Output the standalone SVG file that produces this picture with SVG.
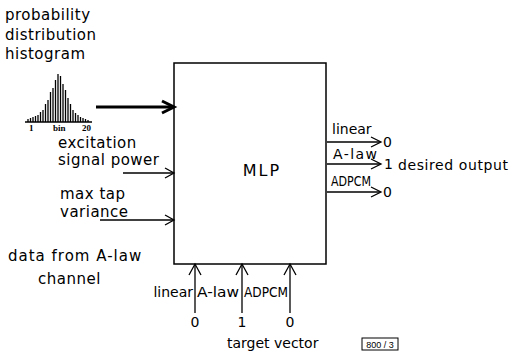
<svg xmlns="http://www.w3.org/2000/svg" width="513" height="354" viewBox="0 0 513 354">
<style>
.t{font-family:"DejaVu Sans","Liberation Sans",sans-serif;font-size:14px;fill:#000}
.L{font-family:"DejaVu Sans","Liberation Sans",sans-serif;font-size:15px;fill:#000;letter-spacing:0.5px}
.ln{stroke:#000;stroke-width:1.3;fill:none}
.hd{stroke:#000;stroke-width:1.3;fill:none;stroke-linejoin:miter}
.bar{stroke:#000;stroke-width:1.3}
.sm{font-family:"Liberation Serif",serif;font-size:9px;font-weight:bold;fill:#000}
</style>
<rect width="513" height="354" fill="#fff"/>
<g id="mlp">
<rect x="174" y="63" width="152" height="201" fill="none" stroke="#000" stroke-width="1.5"/>
<text x="262" y="176" text-anchor="middle" style="font-family:'DejaVu Sans',sans-serif;font-size:16px;letter-spacing:2px">MLP</text>
</g>
<g id="histogram">
<text class="L" x="5" y="20">probability</text>
<text class="L" x="5" y="40">distribution</text>
<text class="L" x="5" y="59">histogram</text>
<line x1="25" y1="122" x2="92" y2="122" class="bar"/>
<g class="bar">
<line x1="28" y1="122" x2="28" y2="119"/>
<line x1="30.5" y1="122" x2="30.5" y2="118"/>
<line x1="33" y1="122" x2="33" y2="117"/>
<line x1="35.5" y1="122" x2="35.5" y2="116"/>
<line x1="38" y1="122" x2="38" y2="115"/>
<line x1="40.5" y1="122" x2="40.5" y2="112"/>
<line x1="43" y1="122" x2="43" y2="110"/>
<line x1="45.5" y1="122" x2="45.5" y2="104"/>
<line x1="48" y1="122" x2="48" y2="100"/>
<line x1="50.5" y1="122" x2="50.5" y2="92"/>
<line x1="53" y1="122" x2="53" y2="88"/>
<line x1="55.5" y1="122" x2="55.5" y2="80"/>
<line x1="58" y1="122" x2="58" y2="74"/>
<line x1="60.5" y1="122" x2="60.5" y2="76"/>
<line x1="63" y1="122" x2="63" y2="84"/>
<line x1="65.5" y1="122" x2="65.5" y2="90"/>
<line x1="68" y1="122" x2="68" y2="98"/>
<line x1="70.5" y1="122" x2="70.5" y2="104"/>
<line x1="73" y1="122" x2="73" y2="110"/>
<line x1="75.5" y1="122" x2="75.5" y2="113"/>
<line x1="78" y1="122" x2="78" y2="115"/>
<line x1="80.5" y1="122" x2="80.5" y2="117"/>
<line x1="83" y1="122" x2="83" y2="118"/>
<line x1="85.5" y1="122" x2="85.5" y2="119"/>
<line x1="88" y1="122" x2="88" y2="120"/>
</g>
<text class="sm" x="29" y="131">1</text>
<text class="sm" x="53" y="131">bin</text>
<text class="sm" x="82" y="131">20</text>
</g>
<g id="excitation">
<text class="L" x="58" y="148">excitation</text>
<text class="L" x="58" y="165">signal power</text>
</g>
<g id="maxtap">
<text class="L" x="60" y="199">max tap</text>
<text class="L" x="60" y="217">variance</text>
</g>
<g id="channel">
<text class="L" x="8" y="261" style="letter-spacing:1px">data from A-law</text>
<text class="L" x="38" y="284">channel</text>
</g>
<g id="outputs">
<text class="t" x="332" y="134">linear</text>
<text class="t" x="383" y="147">0</text>
<text class="t" x="333" y="159" textLength="44" lengthAdjust="spacing">A-law</text>
<text class="t" x="384" y="169">1</text>
<text class="t" x="398" y="170" textLength="110" lengthAdjust="spacing">desired output</text>
<text class="t" x="331" y="186" textLength="40" lengthAdjust="spacingAndGlyphs">ADPCM</text>
<text class="t" x="383" y="197">0</text>
</g>
<g id="targets">
<text class="t" x="193" y="297" text-anchor="end">linear</text>
<text class="t" x="197" y="297" textLength="42" lengthAdjust="spacingAndGlyphs">A-law</text>
<text class="t" x="244" y="297" textLength="44" lengthAdjust="spacingAndGlyphs">ADPCM</text>
<text class="t" x="195" y="327" text-anchor="middle">0</text>
<text class="t" x="242" y="327" text-anchor="middle">1</text>
<text class="t" x="290" y="327" text-anchor="middle">0</text>
<text class="t" x="227" y="348">target vector</text>
</g>
<g id="label">
<rect x="362" y="338" width="36" height="12" fill="none" stroke="#000" stroke-width="1"/>
<text x="380" y="347.5" text-anchor="middle" style="font-family:'Liberation Sans',sans-serif;font-size:9px">800 / 3</text>
</g>
<g id="connectors">
<line x1="96" y1="107" x2="172" y2="107" stroke="#000" stroke-width="3"/>
<polyline points="162,101 174,107 162,113" fill="none" stroke="#000" stroke-width="3"/>
<line class="ln" x1="123" y1="173" x2="173" y2="173"/>
<polyline class="hd" points="165,168 174,173 165,178"/>
<line class="ln" x1="100" y1="220" x2="173" y2="220"/>
<polyline class="hd" points="165,215 174,220 165,225"/>
<line class="ln" x1="327" y1="142" x2="380" y2="142"/>
<polyline class="hd" points="371,137 381,142 371,147"/>
<line class="ln" x1="327" y1="164" x2="380" y2="164"/>
<polyline class="hd" points="371,159 381,164 371,169"/>
<line class="ln" x1="327" y1="192" x2="380" y2="192"/>
<polyline class="hd" points="371,187 381,192 371,197"/>
<line class="ln" x1="195" y1="313" x2="195" y2="265"/>
<polyline class="hd" points="189,275 195,264 201,275"/>
<line class="ln" x1="242" y1="313" x2="242" y2="265"/>
<polyline class="hd" points="236,275 242,264 248,275"/>
<line class="ln" x1="290" y1="313" x2="290" y2="265"/>
<polyline class="hd" points="284,275 290,264 296,275"/>
</g>
</svg>
